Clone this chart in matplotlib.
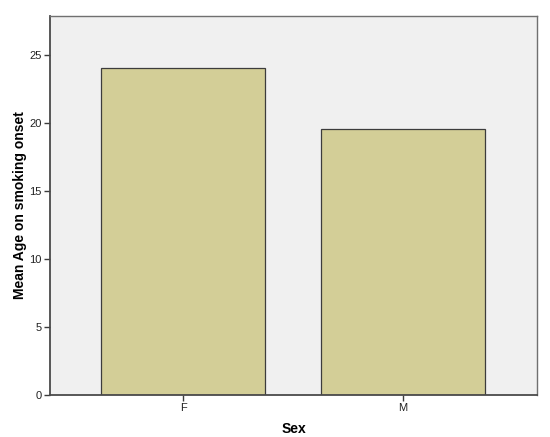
import matplotlib
matplotlib.use("Agg")
import matplotlib.pyplot as plt

plt.rcParams['font.family'] = ['Liberation Sans', 'DejaVu Sans']

sexes = ['F', 'M']
mean_age = [24.1, 19.6]

fig = plt.figure(figsize=(5.5, 4.37), dpi=100)
ax = fig.add_axes([50/550, 1-395/437, 487/550, 379/437])
ax.set_facecolor('#f0f0f0')

ax.bar(range(len(sexes)), mean_age, width=0.745, color='#d3ce97',
       edgecolor='#3c3c3c', linewidth=0.9)

ax.set_xlim(-0.605, 1.61)
ax.set_ylim(0, 27.9)
ax.set_xticks(range(len(sexes)))
ax.set_xticklabels(sexes)
ax.set_yticks([0, 5, 10, 15, 20, 25])
ax.tick_params(axis='both', labelsize=8, length=4, width=1, color='#3c3c3c',
               labelcolor='#222222', pad=2)

for side in ['left', 'bottom']:
    ax.spines[side].set_color('#4a4a4a')
    ax.spines[side].set_linewidth(1.3)
for side in ['top', 'right']:
    ax.spines[side].set_color('#707070')
    ax.spines[side].set_linewidth(1)

ax.set_xlabel('Sex', fontsize=10, fontweight='bold', labelpad=6)
ax.set_ylabel('Mean Age on smoking onset', fontsize=10, fontweight='bold', labelpad=2)

fig.savefig('out.png', dpi=100)
